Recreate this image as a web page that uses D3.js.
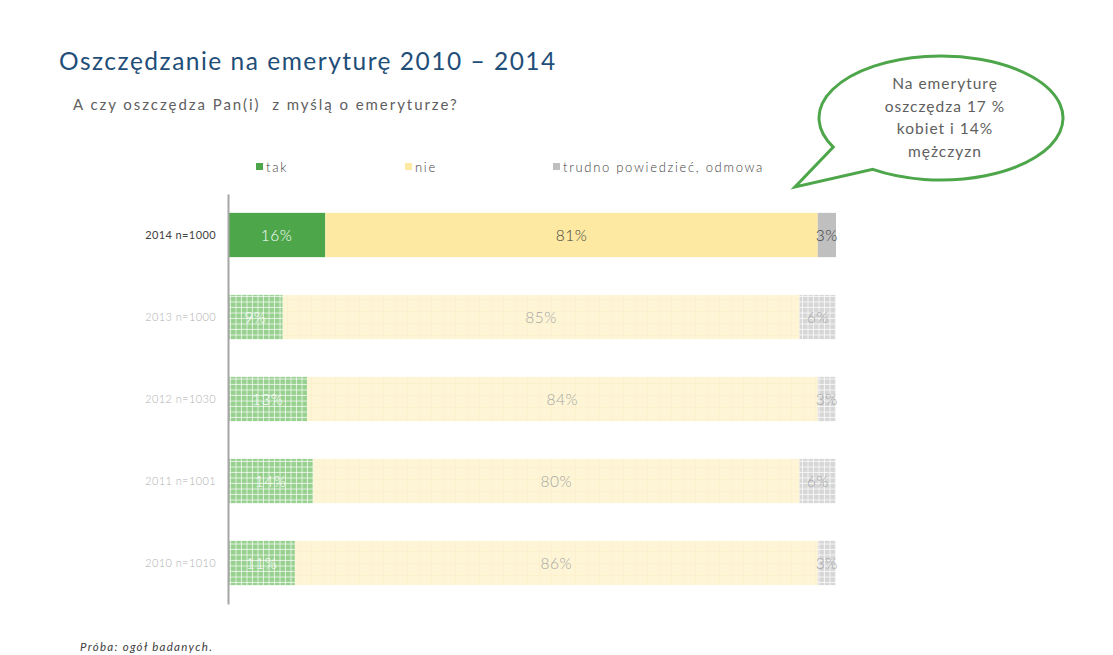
<!DOCTYPE html>
<html><head><meta charset="utf-8">
<script src="https://cdn.jsdelivr.net/npm/d3@7"></script>
<style>body{margin:0;background:#fff}svg{display:block}text{font-family:"Lato","Open Sans",sans-serif;white-space:pre}</style>
</head><body>
<script>
const categories = ["2014 n=1000","2013 n=1000","2012 n=1030","2011 n=1001","2010 n=1010"];
const seriesNames = ["tak","nie","trudno powiedzieć, odmowa"];
const tak = [16,9,13,14,11];
const nie = [81,85,84,80,86];
const trudno = [3,6,3,6,3];
const seriesValues = [tak,nie,trudno];
const title = "Oszczędzanie na emeryturę 2010 – 2014";
const subtitle = "A czy oszczędza Pan(i)  z myślą o emeryturze?";
const bubbleLines = ["Na emeryturę","oszczędza 17 %","kobiet i 14%","mężczyzn"];
const footnote = "Próba: ogół badanych.";

const W=1113,H=655;
const svg=d3.select("body").append("svg").attr("width",W).attr("height",H);
const colors=["#4ea64a","#fde9a2","#bfbfbf"];
const fadedBase=["#97d08f","#fdf5d5","#d6d6d6"];
const defs=svg.append("defs");
fadedBase.forEach((c,i)=>{
  const s=i===1?12:5.5;
  const p=defs.append("pattern").attr("id","pat"+i).attr("patternUnits","userSpaceOnUse").attr("width",s).attr("height",s);
  p.append("rect").attr("width",s).attr("height",s).attr("fill",c);
  const lc=i===1?"#fbefc6":"#ffffff";
  p.append("rect").attr("x",s-1).attr("width",1).attr("height",s).attr("fill",lc).attr("opacity",i===1?0.6:0.7);
  p.append("rect").attr("y",s-1).attr("width",s).attr("height",1).attr("fill",lc).attr("opacity",i===1?0.6:0.7);
});

svg.append("text").attr("x",59).attr("y",70).attr("font-size",24.5).attr("letter-spacing",1.5).attr("fill","#1f4e79").text(title);
svg.append("text").attr("x",73).attr("y",110).attr("font-size",15).attr("letter-spacing",1.95).attr("fill","#606060").text(subtitle);

const x=d3.scaleLinear().domain([0,100]).range([228,836]);
const y=d3.scaleBand().domain(categories).range([194,604]).paddingInner(0.46).paddingOuter(0.23);

// legend
const legX=[256,405,553];
seriesNames.forEach((n,i)=>{
  svg.append("rect").attr("x",legX[i]).attr("y",163).attr("width",7).attr("height",7).attr("fill",colors[i]);
  svg.append("text").attr("x",legX[i]+10).attr("y",171.5).attr("font-size",13).attr("font-weight",300).attr("letter-spacing",1.7).attr("fill","#404040").text(n);
});

categories.forEach((c,ci)=>{
  let acc=0;
  const faded=ci>0;
  seriesValues.forEach((vals,si)=>{
    const v=vals[ci];
    svg.append("rect").attr("x",x(acc)).attr("y",y(c)).attr("width",x(acc+v)-x(acc)).attr("height",y.bandwidth())
      .attr("fill",faded?`url(#pat${si})`:colors[si]);
    const lc = si===0 ? "#ffffff" : (faded?"#a6a6a6":"#404040");
    svg.append("text").attr("x",(x(acc)+x(acc+v))/2).attr("y",y(c)+y.bandwidth()/2+5.5).attr("text-anchor","middle")
      .attr("font-size",15.5).attr("font-weight",300).attr("letter-spacing",0.5).attr("fill",lc).text(v+"%");
    acc+=v;
  });
  svg.append("text").attr("x",216).attr("y",y(c)+y.bandwidth()/2+4).attr("text-anchor","end").attr("font-size",11)
    .attr("font-weight",faded?300:400).attr("letter-spacing",0.4).attr("fill",faded?"#b0b0b0":"#404040").text(c);
});

// axis
const ax=svg.append("g").attr("transform","translate(228,0)").call(d3.axisLeft(y).tickSize(0).tickFormat(""));
ax.select(".domain").attr("stroke","#a6a6a6").attr("stroke-width",2);
ax.selectAll(".tick").remove();

// bubble
const cx=941,cy=118,rx=122,ry=62;
const pt=a=>[cx+rx*Math.cos(a*Math.PI/180),cy+ry*Math.sin(a*Math.PI/180)];
const A=pt(152),B=pt(124),tip=[795,187];
svg.append("path").attr("d",`M${A[0]},${A[1]} A${rx},${ry} 0 1 1 ${B[0]},${B[1]} L${tip[0]},${tip[1]} Z`)
  .attr("fill","#fff").attr("stroke","#4ea64a").attr("stroke-width",3).attr("stroke-linejoin","miter");
bubbleLines.forEach((l,i)=>{
  svg.append("text").attr("x",945).attr("y",89+i*22.5).attr("text-anchor","middle").attr("font-size",15.5)
    .attr("letter-spacing",1.0).attr("fill","#606060").text(l);
});

svg.append("text").attr("x",80).attr("y",651).attr("font-size",11.5).attr("font-style","italic")
  .attr("letter-spacing",1.3).attr("fill","#404040").text(footnote);
</script>
</body></html>
